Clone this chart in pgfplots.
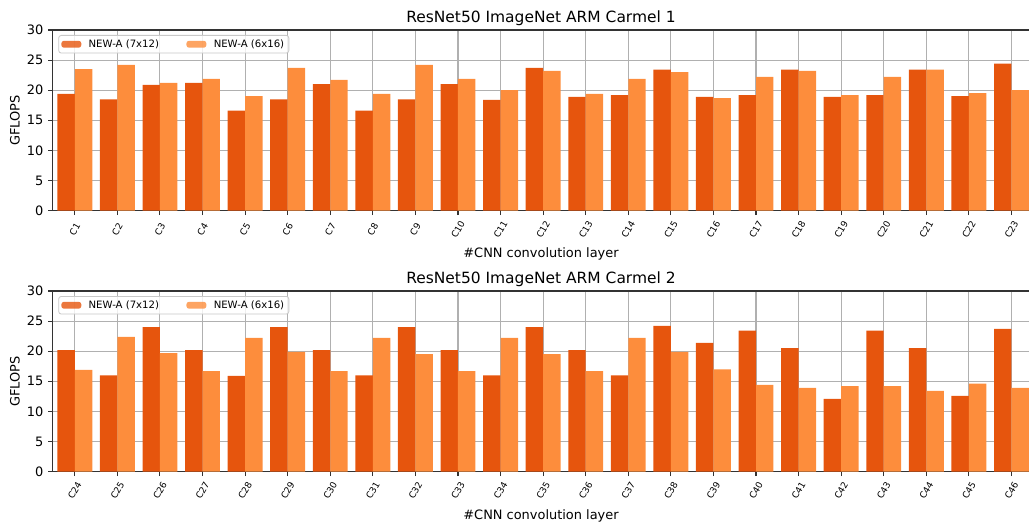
\documentclass[border=0pt]{standalone}
\usepackage{fontspec}
\setmainfont{DejaVu Sans}
\usepackage{pgfplots}
\pgfplotsset{compat=1.18}
\usepackage{pgfplotstable}
\definecolor{darkor}{HTML}{E6550D}
\definecolor{lightor}{HTML}{FD8D3C}
\definecolor{gridc}{HTML}{B0B0B0}
\definecolor{spine}{HTML}{333333}

\pgfplotstableread{
x a b
0 19.4 23.5
1 18.5 24.2
2 20.9 21.2
3 21.2 21.9
4 16.6 19.0
5 18.5 23.7
6 21.0 21.7
7 16.6 19.4
8 18.5 24.2
9 21.0 21.9
10 18.4 20.0
11 23.7 23.2
12 18.9 19.4
13 19.2 21.9
14 23.4 23.0
15 18.9 18.7
16 19.2 22.2
17 23.4 23.2
18 18.9 19.2
19 19.2 22.2
20 23.4 23.4
21 19.0 19.5
22 24.4 20.0
}\tabA

\pgfplotstableread{
x a b
0 20.2 16.9
1 16.0 22.4
2 24.0 19.7
3 20.2 16.7
4 15.9 22.2
5 24.0 19.9
6 20.2 16.7
7 16.0 22.2
8 24.0 19.5
9 20.2 16.7
10 16.0 22.2
11 24.0 19.5
12 20.2 16.7
13 16.0 22.2
14 24.2 19.9
15 21.4 17.0
16 23.4 14.4
17 20.5 13.9
18 12.1 14.2
19 23.4 14.2
20 20.5 13.4
21 12.6 14.6
22 23.7 13.9
}\tabB

\pgfplotsset{
  mystyle/.style={
    scale only axis, width=732.5pt, height=135.5pt,
    xmin=-0.52, xmax=22.42, ymin=0, ymax=30,
    axis y line*=left, axis x line*=box,
    xtick={0,...,22}, ytick={0,5,...,30},
    xtick pos=left, ytick pos=left,
    tick align=outside, major tick length=3.4pt,
    every tick/.style={spine, line width=0.8pt},
    axis line style={spine, line width=0.8pt},
    grid=major, major grid style={gridc, line width=0.8pt},
    /pgf/number format/assume math mode=true,
    yticklabel style={font=\fontsize{9.7}{11}\selectfont},
    xticklabel style={font=\fontsize{6.8}{8}\selectfont, yshift=-10.7pt, rotate=60, anchor=center},
    ylabel={GFLOPS},
    ylabel style={at={(axis description cs:-0.0386,0.5)}, anchor=center, font=\fontsize{9.7}{11}\selectfont},
    xlabel={\#CNN convolution layer},
    xlabel style={at={(axis description cs:0.5,-0.262)}, anchor=base, font=\fontsize{9.7}{11}\selectfont},
    every axis title/.style={at={(axis description cs:0.5,1.0406)}, anchor=base, font=\fontsize{11.6}{14}\selectfont},
    legend columns=2,
    legend style={at={(0,1)}, anchor=north west, xshift=4.2pt, yshift=-3.75pt,
      font=\fontsize{7.6}{9}\selectfont, draw=gridc!70, line width=0.6pt, rounded corners=2pt,
      fill=white, fill opacity=0.8, text opacity=1,
      inner xsep=2pt, inner ysep=1.5pt,
      /tikz/every odd column/.style={column sep=4pt},
      /tikz/every even column/.style={column sep=19pt},
      nodes={inner sep=1.5pt}},
  },
  bA/.style={ybar, bar width=0.41, bar shift=-0.205, fill=darkor, draw=none,
    legend image code/.code={\fill[darkor] (0pt,-2.6pt) rectangle (15pt,2.6pt);}},
  bB/.style={ybar, bar width=0.41, bar shift=0.205, fill=lightor, draw=none,
    legend image code/.code={\fill[lightor] (0pt,-2.6pt) rectangle (15pt,2.6pt);}},
}

\begin{document}
\begin{tikzpicture}
\useasboundingbox (-39.5pt,22.5pt) rectangle (733pt,-370.5pt);
\begin{axis}[mystyle, at={(0pt,0pt)}, anchor=north west,
  title={ResNet50 ImageNet ARM Carmel 1},
  xticklabels={C1,C2,C3,C4,C5,C6,C7,C8,C9,C10,C11,C12,C13,C14,C15,C16,C17,C18,C19,C20,C21,C22,C23}]
\addplot[bA] table[x=x,y=a] {\tabA};
\addplot[bB] table[x=x,y=b] {\tabA};
\legend{NEW-A (7x12),NEW-A (6x16)}
\end{axis}
\begin{axis}[mystyle, at={(0pt,-195.75pt)}, anchor=north west,
  title={ResNet50 ImageNet ARM Carmel 2},
  xticklabels={C24,C25,C26,C27,C28,C29,C30,C31,C32,C33,C34,C35,C36,C37,C38,C39,C40,C41,C42,C43,C44,C45,C46}]
\addplot[bA] table[x=x,y=a] {\tabB};
\addplot[bB] table[x=x,y=b] {\tabB};
\legend{NEW-A (7x12),NEW-A (6x16)}
\end{axis}
\end{tikzpicture}
\end{document}
